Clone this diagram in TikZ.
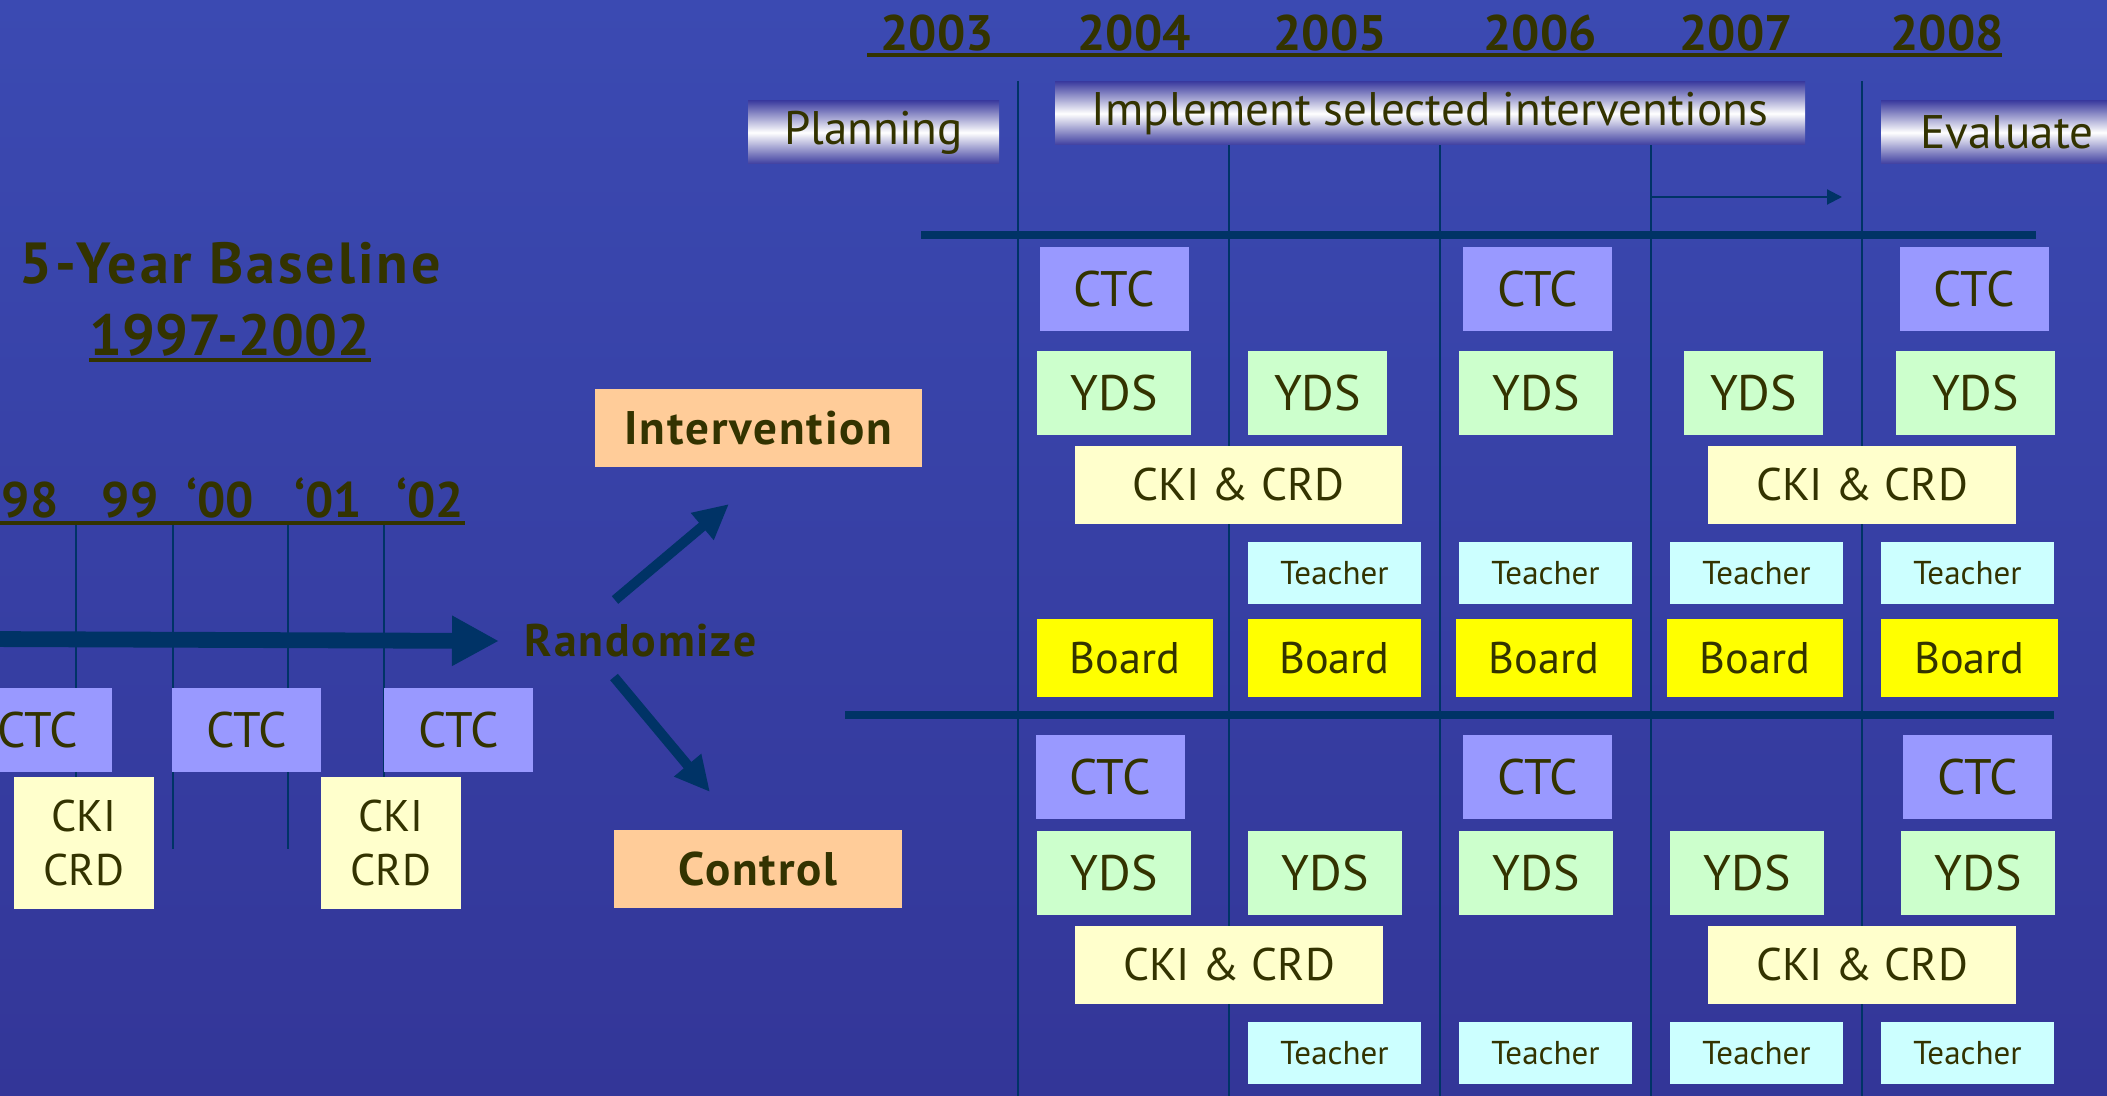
\documentclass[tikz,border=0pt]{standalone}
\usepackage{fontspec}
\setmainfont{PT Sans}
\usepackage{tikz}
\usetikzlibrary{arrows.meta}

\definecolor{ink}{HTML}{333300}
\definecolor{navy}{HTML}{003366}
\definecolor{bgtop}{HTML}{3B4AB2}
\definecolor{bgmid}{HTML}{4157C4}
\definecolor{bgbot}{HTML}{333698}
\definecolor{barc}{HTML}{3E3EA0}
\definecolor{ctcfill}{HTML}{9999FF}
\definecolor{ydsfill}{HTML}{CCFFCC}
\definecolor{ckifill}{HTML}{FFFFCC}
\definecolor{teachfill}{HTML}{CCFFFF}
\definecolor{boardfill}{HTML}{FFFF00}
\definecolor{groupfill}{HTML}{FFCC99}

\begin{document}
\begin{tikzpicture} [x=0.1mm, y=-0.1mm,
  cell/.style={inner sep=0, text=ink},
  ctcbox/.style={cell, fill=ctcfill, minimum width=1.49cm, minimum height=0.84cm, font=\fontsize{14.2}{17}\selectfont},
  ydsbox/.style={cell, fill=ydsfill, minimum width=1.54cm, minimum height=0.84cm, font=\fontsize{14.2}{17}\selectfont},
  ckibox/.style={cell, fill=ckifill, minimum width=3.08cm, minimum height=0.78cm, font=\fontsize{13}{15.6}\selectfont},
  teachbox/.style={cell, fill=teachfill, minimum width=1.73cm, minimum height=0.62cm, font=\fontsize{9.4}{11}\selectfont},
  boardbox/.style={cell, fill=boardfill, minimum width=1.76cm, minimum height=0.78cm, font=\fontsize{12.6}{15}\selectfont},
  groupbox/.style={cell, fill=groupfill, minimum height=0.78cm, font=\bfseries\fontsize{13.4}{16}\selectfont\addfontfeature{LetterSpace=4}},
  bar/.style={cell, minimum height=0.63cm, top color=barc, bottom color=barc, middle color=white, font=\fontsize{13.4}{16}\selectfont},
  yearlab/.style={text=ink, inner sep=0, anchor=base, font=\bfseries\fontsize{14.2}{17}\selectfont},
  fat/.style={navy, line width=2.85pt, -{Triangle[length=3.5mm, width=3.3mm]}}]
\useasboundingbox (0,0) rectangle (2107,1096);
\fill[top color=bgtop, middle color=bgmid, bottom color=bgbot] (0,0) rectangle (2107,1096);

\foreach \x in {1018,1229,1440,1651,1862} \draw[navy, line width=0.6pt] (\x,81) -- (\x,1096);
\foreach \x in {76,173,288,384} \draw[navy, line width=0.6pt] (\x,523) -- (\x,849);

\draw[navy, line width=2.3pt] (921,235) -- (2036,235);
\draw[navy, line width=2.3pt] (845,715) -- (2054,715);

\foreach \x/\yr in {937/2003, 1134/2004, 1330/2005, 1540/2006, 1736/2007, 1947/2008} \node[yearlab] (year\yr) at (\x,51) {\yr};
\draw[ink, line width=0.9pt] (867,55) -- (2002,55);

\node[bar, minimum width=2.51cm] (planning) at (873.5,132.5) {Planning};
\node[bar, minimum width=7.50cm] (implement) at (1430,113.5) {Implement selected interventions};
\node[bar, minimum width=2.52cm] (evaluate) at (2007,132.5) {Evaluate};

\coordinate (spanstart) at (1651,197);
\coordinate (spanend) at (1842,197);
\draw[navy, line width=0.6pt, -{Triangle[length=1.5mm, width=1.5mm]}] (spanstart) -- (spanend);

\node[yearlab, font=\bfseries\fontsize{16.5}{20}\selectfont\addfontfeature{LetterSpace=5}] (basetitle) at (230,284) {5-Year Baseline};
\node[yearlab, font=\bfseries\fontsize{16.5}{20}\selectfont] (baseyears) at (230,356) {1997-2002};
\draw[ink, line width=1pt] ([yshift=-0.4mm]baseyears.base west) -- ([yshift=-0.4mm]baseyears.base east);

\foreach \x/\yr/\n in {30/98/a, 130/99/b, 220/‘00/c, 328/‘01/d, 430/‘02/e} \node[yearlab] (short\n) at (\x,518) {\yr};
\draw[ink, line width=1pt] (0,523) -- (465,523);

\node[groupbox, minimum width=3.27cm] (intervention) at (758.5,428) {Intervention};
\node[groupbox, minimum width=2.88cm] (control) at (758,869) {Control};
\node[cell, anchor=west, font=\bfseries\fontsize{13}{15}\selectfont\addfontfeature{LetterSpace=4}] (randomize) at (524,641) {Randomize};

\coordinate (basestart) at (-20,639);
\draw[navy, line width=4.5pt, -{Triangle[length=4.7mm, width=4.7mm]}] (basestart) -- ([xshift=-2.5mm]randomize.west);
\coordinate (upfoot) at (615,600);
\coordinate (uptip) at (729,504);
\coordinate (downfoot) at (614,677);
\coordinate (downtip) at (710,792);
\draw[fat] (upfoot) -- (uptip);
\draw[fat] (downfoot) -- (downtip);

\foreach \x/\n in {37.5/A, 246.5/B, 458.5/C} \node[ctcbox] (bctc\n) at (\x,730) {CTC};
\foreach \x/\n in {84/A, 391/B} \node[ckibox, minimum width=1.40cm, minimum height=1.32cm, align=center, font=\fontsize{12.6}{15.6}\selectfont] (bcki\n) at (\x,843) {CKI\\CRD};

\foreach \x/\n in {1114/A, 1537.5/C, 1974/E} \node[ctcbox] (ictc\n) at (\x,289) {CTC};
\foreach \x/\w/\n in {1114/1.54/A, 1317.5/1.39/B, 1536/1.54/C, 1753.5/1.39/D, 1975.5/1.59/E} \node[ydsbox, minimum width=\w cm] (iyds\n) at (\x,393) {YDS};
\node[ckibox, minimum width=3.27cm] (ickiA) at (1238.5,485) {CKI \& CRD};
\node[ckibox] (ickiB) at (1862,485) {CKI \& CRD};
\foreach \x/\n in {1334.5/B, 1545.5/C, 1756.5/D, 1967.5/E} \node[teachbox] (iteach\n) at (\x,573) {Teacher};
\foreach \x/\w/\n in {1125/1.76/A, 1334.5/1.73/B, 1544/1.76/C, 1755/1.76/D, 1969.5/1.77/E} \node[boardbox, minimum width=\w cm] (iboard\n) at (\x,658) {Board};

\foreach \x/\n in {1110/A, 1537.5/C, 1977.5/E} \node[ctcbox] (cctc\n) at (\x,777) {CTC};
\foreach \x/\n in {1114/A, 1325/B, 1536/C, 1747/D, 1978/E} \node[ydsbox] (cyds\n) at (\x,873) {YDS};
\foreach \x/\n in {1229/A, 1862/B} \node[ckibox] (ccki\n) at (\x,965) {CKI \& CRD};
\foreach \x/\n in {1334.5/B, 1545.5/C, 1756.5/D, 1967.5/E} \node[teachbox] (cteach\n) at (\x,1053) {Teacher};

\end{tikzpicture}
\end{document}
